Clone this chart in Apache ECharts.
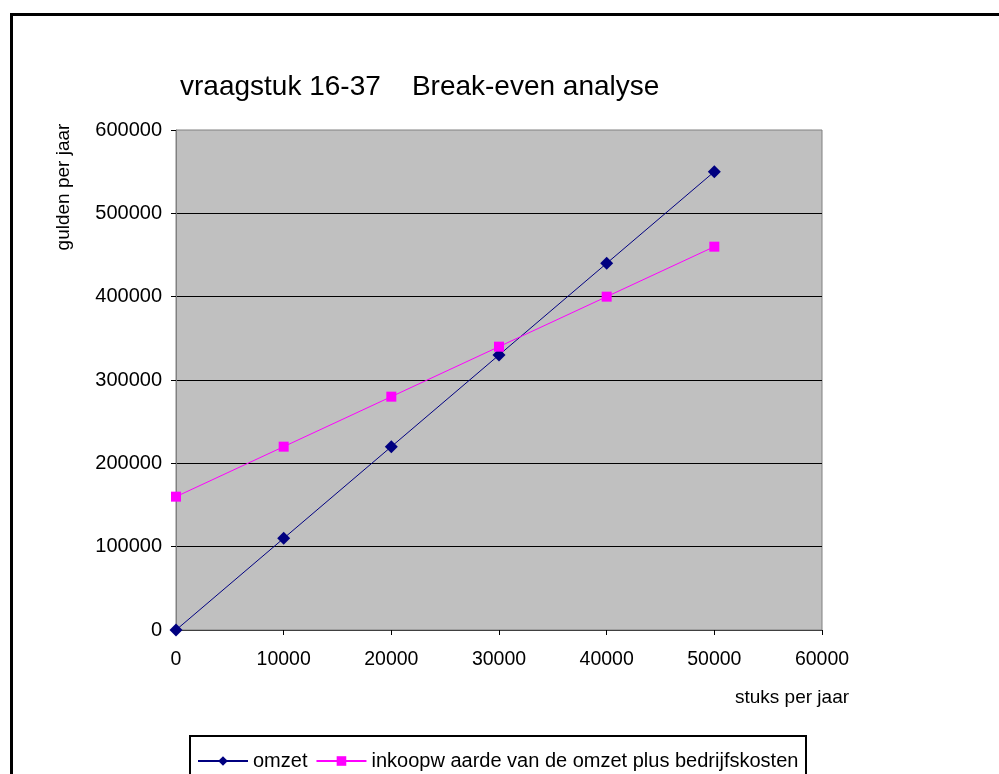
<!DOCTYPE html>
<html>
<head>
<meta charset="utf-8">
<script src="https://cdn.jsdelivr.net/npm/echarts@6/dist/echarts.min.js"></script>
<style>html,body{margin:0;padding:0;background:#fff}#c{width:999px;height:774px}</style>
</head>
<body>
<div id="c"></div>
<script>
var titleText = 'vraagstuk 16-37    Break-even analyse';
var xName = 'stuks per jaar';
var yName = 'gulden per jaar';
var seriesNames = ['omzet', 'inkoopw aarde van de omzet plus bedrijfskosten'];
var stuks = [0, 10000, 20000, 30000, 40000, 50000];
var omzet = [0, 110000, 220000, 330000, 440000, 550000];
var inkoop = [160000, 220000, 280000, 340000, 400000, 460000];

function pairs(xs, ys) { return xs.map(function (x, i) { return [x, ys[i]]; }); }
function plain(v) { return String(v); }

var FONT = '"Liberation Sans", Arial, sans-serif';
var chart = echarts.init(document.getElementById('c'), null, {renderer: 'canvas'});
chart.setOption({
  animation: false,
  backgroundColor: '#fff',
  textStyle: {fontFamily: FONT},
  grid: {left: 176, right: 177, top: 130, bottom: 144, show: true, backgroundColor: '#c0c0c0', borderColor: '#808080', borderWidth: 1},
  xAxis: {
    type: 'value', min: 0, max: 60000, interval: 10000,
    axisLine: {show: true, onZero: false, lineStyle: {color: '#404040', width: 1}},
    axisTick: {show: true, length: 5, lineStyle: {color: '#000'}},
    axisLabel: {color: '#000', fontSize: 19.5, fontFamily: FONT, margin: 20, formatter: plain},
    splitLine: {show: false}
  },
  yAxis: {
    type: 'value', min: 0, max: 600000, interval: 100000,
    axisLine: {show: true, lineStyle: {color: '#808080', width: 1}},
    axisTick: {show: true, length: 5, lineStyle: {color: '#000'}},
    axisLabel: {color: '#000', fontSize: 20, fontFamily: FONT, margin: 14, formatter: plain},
    splitLine: {show: true, showMinLine: false, showMaxLine: false, lineStyle: {color: '#000', width: 1}}
  },
  legend: {
    left: 192, top: 746, itemWidth: 50, itemHeight: 12, itemGap: 8,
    textStyle: {color: '#000', fontSize: 20, fontFamily: FONT},
    data: seriesNames
  },
  series: [
    {name: seriesNames[0], type: 'line', data: pairs(stuks, omzet), symbol: 'diamond', symbolSize: 13,
     lineStyle: {color: '#000080', width: 1}, itemStyle: {color: '#000080'}},
    {name: seriesNames[1], type: 'line', data: pairs(stuks, inkoop), symbol: 'rect', symbolSize: 10,
     lineStyle: {color: '#ff00ff', width: 1}, itemStyle: {color: '#ff00ff'}}
  ],
  graphic: [
    {type: 'rect', shape: {x: 11.5, y: 14.5, width: 1000, height: 800}, style: {fill: 'none', stroke: '#000', lineWidth: 3}, z: 100},
    {type: 'rect', shape: {x: 190, y: 736, width: 616, height: 60}, style: {fill: 'none', stroke: '#000', lineWidth: 2}, z: 100},
    {type: 'text', x: 180, y: 87, style: {text: titleText, fill: '#000', font: '28px ' + FONT, textVerticalAlign: 'middle'}},
    {type: 'text', x: 792, y: 698, style: {text: xName, fill: '#000', font: '19px ' + FONT, textAlign: 'center', textVerticalAlign: 'middle'}},
    {type: 'text', x: 64, y: 187, rotation: Math.PI / 2, style: {text: yName, fill: '#000', font: '19px ' + FONT, textAlign: 'center', textVerticalAlign: 'middle'}}
  ]
});
</script>
</body>
</html>
